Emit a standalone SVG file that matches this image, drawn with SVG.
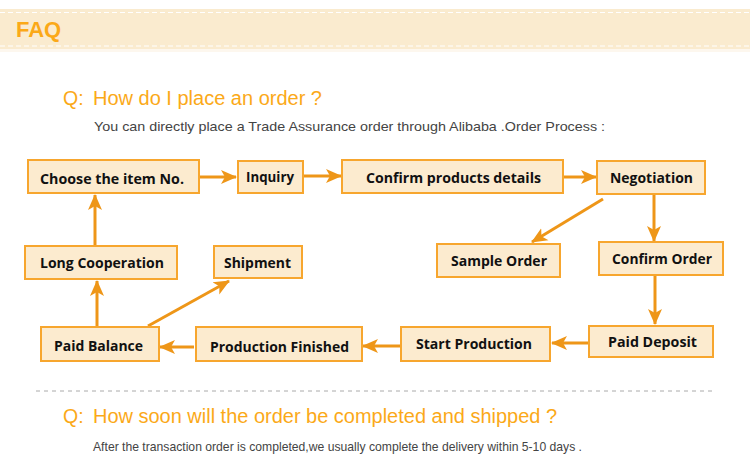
<svg xmlns="http://www.w3.org/2000/svg" width="750" height="469" viewBox="0 0 750 469">
<style>
.box{fill:#FCEBCF;stroke:#F7A62E;stroke-width:2}
.bt{font-family:"Open Sans","DejaVu Sans",sans-serif;font-weight:700;font-size:15px;fill:#111;text-anchor:middle}
.q{font-family:"Liberation Sans",Arial,sans-serif;font-size:19.5px;fill:#FBA918}
.p{font-family:"Liberation Sans",Arial,sans-serif;font-size:13px;fill:#444}
.ar{stroke:#EE9618;stroke-width:3;fill:none;marker-end:url(#ah)}
</style>
<defs>
<marker id="ah" markerUnits="userSpaceOnUse" markerWidth="16" markerHeight="16" viewBox="0 0 16 16" refX="15" refY="8" orient="auto">
<path d="M0,1 L16,8 L0,15 L4,8 z" fill="#EE9618"/>
</marker>
</defs>
<rect x="0" y="0" width="750" height="469" fill="#fff"/>
<g id="header">
<rect x="0" y="9" width="750" height="40" fill="#FAEBCF"/>
<rect x="0" y="49" width="750" height="3" fill="#FDF7EE"/>
<line x1="0" y1="12.5" x2="750" y2="12.5" stroke="#fff" stroke-width="1" stroke-dasharray="5,3"/>
<line x1="0" y1="46" x2="750" y2="46" stroke="#fff" stroke-width="1" stroke-dasharray="5,3"/>
<text x="16" y="37" font-family="Liberation Sans,Arial,sans-serif" font-weight="700" font-size="22" fill="#FBA918">FAQ</text>
</g>
<g id="q1">
<text class="q" x="63" y="105">Q:</text>
<text class="q" x="93" y="105" textLength="229" lengthAdjust="spacingAndGlyphs">How do I place an order ?</text>
<text class="p" x="94" y="131" textLength="511" lengthAdjust="spacingAndGlyphs">You can directly place a Trade Assurance order through Alibaba .Order Process :</text>
</g>
<g id="connectors">
<line class="ar" x1="200" y1="177" x2="236" y2="177"/>
<line class="ar" x1="304" y1="176" x2="341" y2="176"/>
<line class="ar" x1="564" y1="177" x2="596" y2="177"/>
<line class="ar" x1="603" y1="199" x2="532" y2="242"/>
<line class="ar" x1="654" y1="195" x2="654" y2="241"/>
<line class="ar" x1="655" y1="276" x2="655" y2="324"/>
<line class="ar" x1="588" y1="343" x2="552" y2="343"/>
<line class="ar" x1="400" y1="346" x2="363" y2="346"/>
<line class="ar" x1="194" y1="347" x2="160" y2="347"/>
<line class="ar" x1="97" y1="326" x2="97" y2="281"/>
<line class="ar" x1="95" y1="245" x2="95" y2="195"/>
<line class="ar" x1="148" y1="326" x2="229" y2="281"/>
</g>
<g id="n-choose"><rect class="box" x="28" y="160" width="171" height="33"/><text class="bt" x="112" y="184" textLength="144" lengthAdjust="spacingAndGlyphs">Choose the item No.</text></g>
<g id="n-inquiry"><rect class="box" x="238" y="161" width="65" height="32"/><text class="bt" x="270" y="182" textLength="48" lengthAdjust="spacingAndGlyphs">Inquiry</text></g>
<g id="n-confirm-details"><rect class="box" x="342" y="160" width="221" height="33"/><text class="bt" x="453.5" y="183" textLength="175" lengthAdjust="spacingAndGlyphs">Confirm products details</text></g>
<g id="n-negotiation"><rect class="box" x="597" y="161" width="108" height="33"/><text class="bt" x="651.5" y="183" textLength="83" lengthAdjust="spacingAndGlyphs">Negotiation</text></g>
<g id="n-sample"><rect class="box" x="437" y="244" width="123" height="33"/><text class="bt" x="499" y="266" textLength="96" lengthAdjust="spacingAndGlyphs">Sample Order</text></g>
<g id="n-confirm-order"><rect class="box" x="599" y="242" width="124" height="33"/><text class="bt" x="662" y="264" textLength="100" lengthAdjust="spacingAndGlyphs">Confirm Order</text></g>
<g id="n-paid-deposit"><rect class="box" x="589" y="326" width="124" height="31"/><text class="bt" x="652.5" y="347" textLength="89" lengthAdjust="spacingAndGlyphs">Paid Deposit</text></g>
<g id="n-start-production"><rect class="box" x="401" y="327" width="149" height="34"/><text class="bt" x="474" y="349" textLength="116" lengthAdjust="spacingAndGlyphs">Start Production</text></g>
<g id="n-production-finished"><rect class="box" x="196" y="327" width="166" height="34"/><text class="bt" x="279.5" y="352" textLength="139" lengthAdjust="spacingAndGlyphs">Production Finished</text></g>
<g id="n-paid-balance"><rect class="box" x="41" y="327" width="118" height="34"/><text class="bt" x="98.5" y="351" textLength="89" lengthAdjust="spacingAndGlyphs">Paid Balance</text></g>
<g id="n-long-cooperation"><rect class="box" x="25" y="246" width="152" height="33"/><text class="bt" x="102" y="268" textLength="124" lengthAdjust="spacingAndGlyphs">Long Cooperation</text></g>
<g id="n-shipment"><rect class="box" x="214" y="246" width="88" height="32"/><text class="bt" x="257.5" y="268" textLength="67" lengthAdjust="spacingAndGlyphs">Shipment</text></g>
<g id="q2">
<line x1="36" y1="391" x2="715" y2="391" stroke="#AAAAAA" stroke-width="1" stroke-dasharray="4,4"/>
<text class="q" x="63" y="423">Q:</text>
<text class="q" x="93" y="423" textLength="464" lengthAdjust="spacingAndGlyphs">How soon will the order be completed and shipped ?</text>
<text class="p" x="93" y="451" font-size="12.5" textLength="489" lengthAdjust="spacingAndGlyphs">After the transaction order is completed,we usually complete the delivery within 5-10 days .</text>
</g>
</svg>
